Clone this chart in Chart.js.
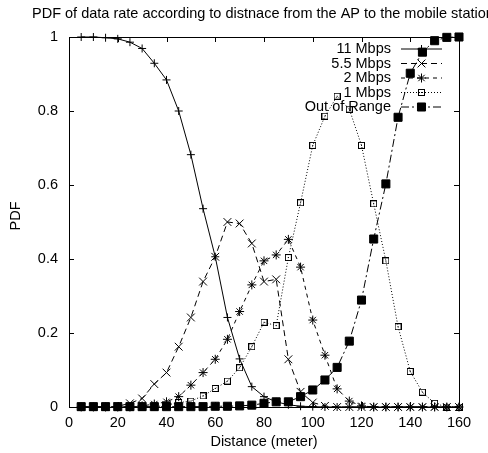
<!DOCTYPE html>
<html>
<head>
<meta charset="utf-8">
<script src="https://cdn.jsdelivr.net/npm/chart.js@4.4.1/dist/chart.umd.min.js"></script>
<style>
  html, body { margin: 0; padding: 0; background: #fff; }
  #chart { display: block; }
</style>
</head>
<body>
<canvas id="chart" width="488" height="453"></canvas>
<script>
// --- data ---
const distance = [5, 10, 15, 20, 25, 30, 35, 40, 45, 50, 55, 60, 65, 70, 75, 80,
                  85, 90, 95, 100, 105, 110, 115, 120, 125, 130, 135, 140, 145, 150, 155, 160];

const rate11 = [1, 1, 0.998, 0.995, 0.986, 0.969, 0.929, 0.884, 0.80, 0.682, 0.536, 0.406, 0.242, 0.13, 0.055, 0.028,
                0.014, 0.006, 0.002, 0.001, 0, 0, 0, 0, 0, 0, 0, 0, 0, 0, 0, 0];
const rate55 = [0, 0, 0, 0.002, 0.01, 0.023, 0.062, 0.093, 0.163, 0.242, 0.339, 0.406, 0.50, 0.496, 0.442, 0.339,
                0.345, 0.129, 0.041, 0.012, 0.003, 0, 0, 0, 0, 0, 0, 0, 0, 0, 0, 0];
const rate2 = [0, 0, 0, 0, 0, 0.003, 0.008, 0.014, 0.028, 0.059, 0.093, 0.129, 0.183, 0.258, 0.33, 0.395,
               0.411, 0.453, 0.378, 0.235, 0.14, 0.049, 0.016, 0.003, 0, 0, 0, 0, 0, 0, 0, 0];
const rate1 = [0, 0, 0, 0, 0, 0, 0, 0.005, 0.012, 0.016, 0.03, 0.05, 0.07, 0.106, 0.163, 0.229,
               0.22, 0.404, 0.552, 0.707, 0.786, 0.84, 0.805, 0.707, 0.549, 0.395, 0.217, 0.096, 0.04, 0.01, 0, 0];
const outOfRange = [0.001, 0.001, 0.001, 0.001, 0.001, 0.001, 0.001, 0.001, 0.001, 0.001, 0.001, 0.002, 0.002, 0.003, 0.005, 0.01,
                    0.014, 0.014, 0.028, 0.046, 0.073, 0.107, 0.178, 0.289, 0.454, 0.603, 0.783, 0.902, 0.959, 0.99, 0.999, 1];

const seriesNames = ['11 Mbps', '5.5 Mbps', '2 Mbps', '1 Mbps', 'Out of Range'];
const xTicks = [0, 20, 40, 60, 80, 100, 120, 140, 160];
const yTicks = [0, 0.2, 0.4, 0.6, 0.8, 1];

const chartTitle = 'PDF of data rate according to distnace from the AP to the mobile station';
const xTitle = 'Distance (meter)';
const yTitle = 'PDF';

const FONT = "'Liberation Sans', Arial, sans-serif";
const FONT_SIZE = 14.5;
Chart.defaults.color = '#000';
Chart.defaults.font.family = FONT;
Chart.defaults.font.size = FONT_SIZE;

// gnuplot's open square with a dot in the middle
function makeDotSquare() {
  const c = document.createElement('canvas');
  c.width = 7; c.height = 7;
  const g = c.getContext('2d');
  g.strokeStyle = '#000';
  g.lineWidth = 1;
  g.strokeRect(0.5, 0.5, 6, 6);
  g.fillStyle = '#000';
  g.fillRect(3, 3, 1, 1);
  return c;
}
const dotSquare = makeDotSquare();

// --- styles per series ---
const styles = [
  { dash: [], point: 'cross', radius: 4, fill: false },
  { dash: [6, 4], point: 'crossRot', radius: 5.5, fill: false },
  { dash: [4, 4], point: 'star', radius: 4.5, fill: false },
  { dash: [1, 2], point: dotSquare, radius: 4, fill: false },
  { dash: [8, 3, 2, 3], point: 'rect', radius: 5.7, fill: true }
];

const allValues = [rate11, rate55, rate2, rate1, outOfRange];

const datasets = allValues.map((vals, i) => ({
  label: seriesNames[i],
  data: distance.map((d, j) => ({ x: d, y: vals[j] })),
  borderColor: '#000',
  borderWidth: 1,
  borderDash: styles[i].dash,
  pointStyle: styles[i].point,
  pointRadius: styles[i].radius,
  pointBorderWidth: 1,
  pointBorderColor: '#000',
  pointBackgroundColor: styles[i].fill ? '#000' : 'rgba(0,0,0,0)',
  tension: 0,
  clip: false,
  order: 5 - i
}));

// draws the title, y label, inward ticks and the gnuplot-style key
const gnuplotLook = {
  id: 'gnuplotLook',
  afterDatasetsDraw(chart) {
    const { ctx, chartArea: a, scales } = chart;
    ctx.save();
    ctx.strokeStyle = '#000';
    ctx.lineWidth = 1;
    ctx.setLineDash([]);

    // inward ticks on all four sides
    ctx.beginPath();
    xTicks.forEach(t => {
      const px = Math.round(scales.x.getPixelForValue(t)) + 0.5;
      ctx.moveTo(px, a.bottom); ctx.lineTo(px, a.bottom - 5);
      ctx.moveTo(px, a.top); ctx.lineTo(px, a.top + 5);
    });
    yTicks.forEach(t => {
      const py = Math.round(scales.y.getPixelForValue(t)) + 0.5;
      ctx.moveTo(a.left, py); ctx.lineTo(a.left + 5, py);
      ctx.moveTo(a.right, py); ctx.lineTo(a.right - 5, py);
    });
    ctx.stroke();

    // key, text right-aligned with the sample to its right
    ctx.font = FONT_SIZE + 'px ' + FONT;
    ctx.textAlign = 'right';
    ctx.textBaseline = 'middle';
    ctx.fillStyle = '#000';
    const textRight = 391, lineL = 401, lineR = 442, rowTop = 49, rowGap = 14.5;
    seriesNames.forEach((name, i) => {
      const y = rowTop + i * rowGap;
      ctx.fillText(name, textRight, y);
      ctx.setLineDash(styles[i].dash);
      ctx.beginPath();
      ctx.moveTo(lineL, y); ctx.lineTo(lineR, y);
      ctx.stroke();
      ctx.setLineDash([]);
      ctx.fillStyle = styles[i].fill ? '#000' : 'rgba(0,0,0,0)';
      if (Chart.helpers && Chart.helpers.drawPoint) {
        Chart.helpers.drawPoint(ctx, { pointStyle: styles[i].point, radius: styles[i].radius, rotation: 0, borderWidth: 1 },
          (lineL + lineR) / 2, y);
      }
      ctx.fillStyle = '#000';
    });

    // title (runs off the right edge, as in the original)
    ctx.textAlign = 'left';
    ctx.fillText(chartTitle, 32, 14);

    // y label, rotated
    ctx.translate(16, 216);
    ctx.rotate(-Math.PI / 2);
    ctx.textAlign = 'center';
    ctx.fillText(yTitle, 0, 0);
    ctx.restore();
  }
};

new Chart(document.getElementById('chart'), {
  type: 'line',
  data: { datasets },
  options: {
    responsive: false,
    animation: false,
    layout: { padding: { left: 0, right: 29, top: 37, bottom: 0 } },
    plugins: { legend: { display: false }, tooltip: { enabled: false }, title: { display: false } },
    scales: {
      x: {
        type: 'linear',
        min: 0,
        max: 160,
        afterFit: s => { s.height = 46; },
        afterBuildTicks: s => { s.ticks = xTicks.map(v => ({ value: v })); },
        ticks: { padding: 7, maxRotation: 0, autoSkip: false, callback: v => String(v) },
        grid: { display: false, drawTicks: false },
        border: { display: true, color: '#000', width: 1 },
        title: { display: true, text: xTitle, padding: { top: 0, bottom: 2 } }
      },
      y: {
        min: 0,
        max: 1,
        afterFit: s => { s.width = 69; },
        afterBuildTicks: s => { s.ticks = yTicks.map(v => ({ value: v })); },
        ticks: { padding: 11, callback: v => String(+v.toFixed(1)) },
        grid: { display: false, drawTicks: false },
        border: { display: true, color: '#000', width: 1 },
        title: { display: false }
      },
      x2: {
        type: 'linear', position: 'top', min: 0, max: 160, display: true,
        afterFit: s => { s.height = 0; },
        ticks: { display: false }, grid: { display: false, drawTicks: false },
        border: { display: true, color: '#000', width: 1 }
      },
      y2: {
        type: 'linear', position: 'right', min: 0, max: 1, display: true,
        afterFit: s => { s.width = 0; },
        ticks: { display: false }, grid: { display: false, drawTicks: false },
        border: { display: true, color: '#000', width: 1 }
      }
    }
  },
  plugins: [gnuplotLook]
});
</script>
</body>
</html>
